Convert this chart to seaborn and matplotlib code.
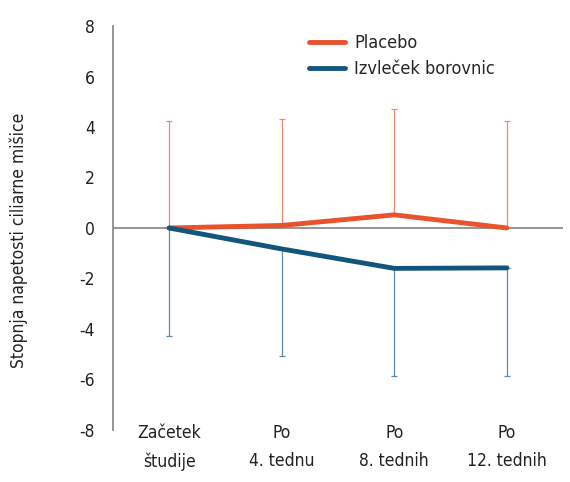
import matplotlib
matplotlib.use("Agg")
import matplotlib.pyplot as plt
import seaborn as sns
import pandas as pd
import numpy as np

# data
categories = ["Začetek\nštudije", "Po\n4. tednu", "Po\n8. tednih", "Po\n12. tednih"]
placebo = [0.0, 0.1, 0.52, 0.0]
placebo_upper = [4.22, 4.33, 4.72, 4.25]
blueberry = [0.0, -0.83, -1.6, -1.58]
blueberry_lower = [-4.27, -5.07, -5.85, -5.85]
y_ticks = [-8, -6, -4, -2, 0, 2, 4, 6, 8]

ORANGE = "#E8532B"
BLUE = "#14557C"

sns.set_style("white")
plt.rcParams["font.family"] = ["DejaVu Sans"]
plt.rcParams["font.stretch"] = "condensed"
plt.rcParams["axes.unicode_minus"] = False

df = pd.DataFrame({
    "cat": list(range(len(categories))) * 2,
    "value": placebo + blueberry,
    "group": ["Placebo"] * 4 + ["Izvleček borovnic"] * 4,
})

fig = plt.figure(figsize=(5.7, 4.82), dpi=100)
ax = fig.add_axes([0.198, 0.108, 0.79, 0.838])

x = np.arange(len(categories))

# one-sided error bars
ax.errorbar(x, placebo, yerr=[np.zeros(4), np.array(placebo_upper) - np.array(placebo)],
            fmt="none", ecolor="#F08A70", elinewidth=0.9, capsize=2.5, capthick=0.9, zorder=1)
ax.errorbar(x, blueberry, yerr=[np.array(blueberry) - np.array(blueberry_lower), np.zeros(4)],
            fmt="none", ecolor="#5F8BAA", elinewidth=0.9, capsize=2.5, capthick=0.9, zorder=1)

ax.axhline(0, color="#8C8C8C", lw=1.3, zorder=0)

sns.lineplot(data=df, x="cat", y="value", hue="group",
             palette={"Placebo": ORANGE, "Izvleček borovnic": BLUE},
             hue_order=["Placebo", "Izvleček borovnic"],
             lw=3.5, solid_capstyle="round", ax=ax, zorder=3)

ax.set_xlim(-0.5, 3.5)
ax.set_ylim(-8, 8)
ax.set_yticks(y_ticks)
ax.set_xticks(x)
ax.set_xticklabels(categories, fontsize=12.5, color="#222222", linespacing=1.7)
ax.tick_params(axis="y", labelsize=12.5, colors="#222222", length=0, pad=13)
ax.tick_params(axis="x", length=0, pad=-4)
ax.set_xlabel("")
ax.set_ylabel("Stopnja napetosti ciliarne mišice", fontsize=12.5, color="#222222")
ax.yaxis.set_label_coords(-0.189, 0.47)

for s in ["top", "right", "bottom"]:
    ax.spines[s].set_visible(False)
ax.spines["left"].set_color("#8C8C8C")
ax.spines["left"].set_linewidth(1.3)

leg = ax.legend(loc="upper left", bbox_to_anchor=(0.40, 1.02), frameon=False,
                fontsize=13, handlelength=2.0, handletextpad=0.5, labelspacing=0.45)
for line in leg.get_lines():
    line.set_linewidth(3.5)

fig.savefig("out.png", dpi=100)
